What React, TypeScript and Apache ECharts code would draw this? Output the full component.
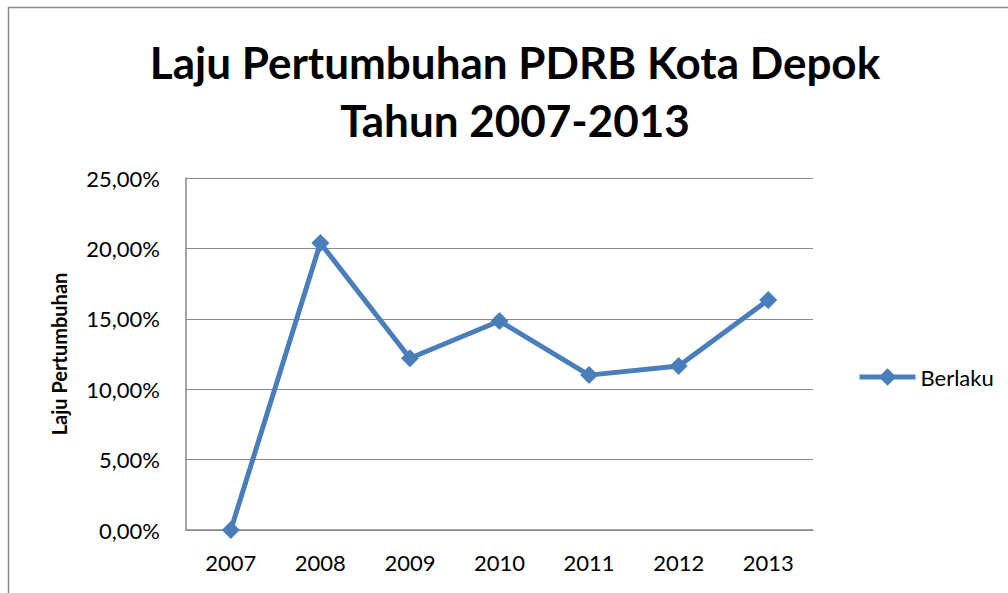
import React, { useEffect, useRef } from "react";
import * as echarts from "echarts";

const years = ["2007", "2008", "2009", "2010", "2011", "2012", "2013"];
const berlaku = [0.0, 20.38, 12.2, 14.84, 11.0, 11.65, 16.34];
const seriesName = "Berlaku";
const titleLines = ["Laju Pertumbuhan PDRB Kota Depok", "Tahun 2007-2013"];
const yAxisName = "Laju Pertumbuhan";

const FONT = "Lato, 'Open Sans', sans-serif";

export default function App() {
  const ref = useRef<HTMLDivElement>(null);
  useEffect(() => {
    if (!ref.current) return;
    const chart = echarts.init(ref.current, null, { renderer: "svg" });
    chart.setOption({
      animation: false,
      backgroundColor: "#ffffff",
      textStyle: { fontFamily: FONT },
      graphic: [
        {
          type: "rect",
          shape: { x: 8.5, y: 7.5, width: 1010, height: 600 },
          style: { fill: "none", stroke: "#888888", lineWidth: 1.5 },
          silent: true,
        },
        {
          type: "text",
          x: 515,
          y: 33,
          style: {
            text: titleLines.join("\n"),
            fontFamily: FONT,
            fontSize: 44,
            fontWeight: "bold",
            lineHeight: 58,
            align: "center",
            fill: "#000000",
          },
        },
      ],
      grid: { left: 186, right: 195, top: 178, bottom: 63, containLabel: false },
      legend: {
        data: [seriesName],
        left: 852,
        top: 361,
        itemWidth: 56,
        itemHeight: 22,
        itemGap: 4,
        lineStyle: { width: 5 },
        textStyle: { fontFamily: FONT, fontSize: 22, color: "#000" },
      },
      xAxis: {
        type: "category",
        data: years,
        boundaryGap: true,
        axisLine: { lineStyle: { color: "#888888", width: 1.5 } },
        axisTick: { show: false },
        axisLabel: { fontSize: 22, color: "#000", margin: 21, fontFamily: FONT },
      },
      yAxis: {
        type: "value",
        min: 0,
        max: 25,
        interval: 5,
        name: yAxisName,
        nameLocation: "middle",
        nameGap: 117,
        nameRotate: 90,
        nameTextStyle: { fontSize: 20, fontWeight: "bold", color: "#000", fontFamily: FONT },
        axisLine: { show: true, lineStyle: { color: "#888888", width: 1.5 } },
        axisTick: { show: false },
        splitLine: { lineStyle: { color: "#888888", width: 1 } },
        axisLabel: {
          fontSize: 22,
          color: "#000",
          margin: 26,
          fontFamily: FONT,
          formatter: (v: number) => v.toFixed(2).replace(".", ",") + "%",
        },
      },
      series: [
        {
          name: seriesName,
          type: "line",
          data: berlaku,
          symbol: "diamond",
          symbolSize: 18,
          lineStyle: { color: "#4a7ebb", width: 5 },
          itemStyle: { color: "#4a7ebb" },
        },
      ],
    });
    return () => chart.dispose();
  }, []);
  return (
    <div
      ref={ref}
      style={{ position: "absolute", left: 0, top: 0, width: 1008, height: 593 }}
    />
  );
}
